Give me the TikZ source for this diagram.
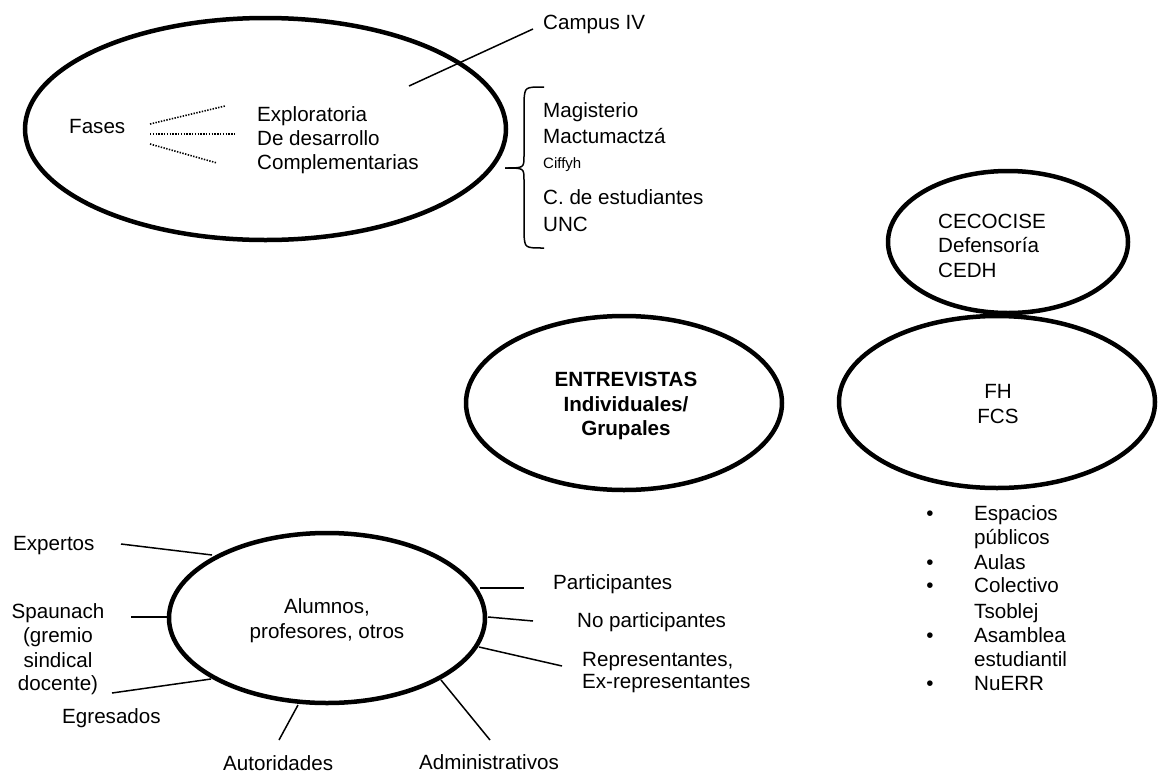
\documentclass[tikz,border=0pt]{standalone}
\usepackage{fontspec}
\setmainfont{Liberation Sans}
\usetikzlibrary{shapes.geometric}
\tikzset{
  txt/.style={font=\fontsize{20.6}{24}\selectfont, inner sep=0pt, anchor=base west},
  ctxt/.style={txt, anchor=base},
  btxt/.style={txt, anchor=base, font=\fontsize{20.6}{24}\selectfont\bfseries},
  oval/.style={ellipse, draw, line width=4.5pt, inner sep=0pt},
  conn/.style={line width=1.5pt},
  dots/.style={line width=1.6pt, dash pattern=on 1.4pt off 1.4pt},
}
\begin{document}
\begin{tikzpicture}[x=1pt,y=-1pt]
\useasboundingbox (0,0) rectangle (1160,774);

% ---- ellipses
\node[oval, minimum width=481pt, minimum height=222pt] (fases) at (265.5,129) {};
\node[oval, minimum width=240pt, minimum height=142pt] (ceco) at (1008,242) {};
\node[oval, minimum width=316pt, minimum height=172pt] (fh) at (997,402) {};
\node[oval, minimum width=316pt, minimum height=174pt] (entre) at (624,403) {};
\node[oval, minimum width=316pt, minimum height=170pt] (alum) at (327,618) {};

% ---- Fases ellipse
\node[txt] (fa) at (69,133) {Fases};
\node[txt] (ph1) at (257,121) {Exploratoria};
\node[txt] (ph2) at (257,145) {De desarrollo};
\node[txt] (ph3) at (257,169) {Complementarias};
\coordinate (d1a) at (150,124); \coordinate (d1b) at (225,106);
\coordinate (d2a) at (150,134); \coordinate (d2b) at (235,134);
\coordinate (d3a) at (150,144); \coordinate (d3b) at (217,163);
\draw[dots] (d1a) -- (d1b);
\draw[dots] (d2a) -- (d2b);
\draw[dots] (d3a) -- (d3b);

% ---- Campus IV
\node[txt] (campus) at (543,29) {Campus IV};
\coordinate (ca) at (409,86);
\coordinate (cb) at (533,29);
\draw[conn] (ca) -- (cb);

% ---- brace and list
\coordinate (brtop) at (544,87);
\coordinate (brtip) at (505,168);
\coordinate (brbot) at (544,248);
\draw[conn] (brtop) .. controls (525,87) .. (524,100) -- (524,156)
  .. controls (524,168) .. (brtip);
\draw[conn] (brtip) .. controls (524,168) .. (524,180) -- (524,235)
  .. controls (525,248) .. (brbot);
\node[txt] (m1) at (543,117) {Magisterio};
\node[txt] (m2) at (543,143) {Mactumactzá};
\node[txt, font=\fontsize{15}{18}\selectfont] (m3) at (543,168) {Ciffyh};
\node[txt] (m4) at (543,204) {C. de estudiantes};
\node[txt] (m5) at (543,231) {UNC};

% ---- CECOCISE
\node[txt] (c1) at (938,228) {CECOCISE};
\node[txt] (c2) at (938,252) {Defensoría};
\node[txt] (c3) at (938,277) {CEDH};

% ---- FH
\node[ctxt] (f1) at (998,398) {FH};
\node[ctxt] (f2) at (998,423) {FCS};

% ---- ENTREVISTAS
\node[btxt] (e1) at (626,386) {ENTREVISTAS};
\node[btxt] (e2) at (626,411) {Individuales/};
\node[btxt] (e3) at (626,435) {Grupales};

% ---- bullets
\foreach \n/\y/\t/\b in {b1/520/Espacios/1, b2/544/públicos/0, b3/569/Aulas/1,
  b4/592/Colectivo/1, b5/618/Tsoblej/0, b6/642/Asamblea/1,
  b7/666/estudiantil/0, b8/690/NuERR/1}{
  \node[txt] (\n) at (974,\y) {\t};
  \ifnum\b=1 \node[ctxt] (\n-dot) at (930,\y) {•};\fi
}

% ---- Alumnos ellipse
\node[ctxt] (a1) at (327,613) {Alumnos,};
\node[ctxt] (a2) at (327,638) {profesores, otros};

\node[txt] (exp) at (13,550) {Expertos};
\node[ctxt] (sp1) at (58,618) {Spaunach};
\node[ctxt] (sp2) at (58,642) {(gremio};
\node[ctxt] (sp3) at (58,667) {sindical};
\node[ctxt] (sp4) at (58,690) {docente)};
\node[txt] (egr) at (62,723) {Egresados};
\node[txt] (aut) at (223,770) {Autoridades};
\node[txt] (par) at (553,589) {Participantes};
\node[txt] (nop) at (577,627) {No participantes};
\node[txt] (rep1) at (582,666) {Representantes,};
\node[txt] (rep2) at (582,688) {Ex-representantes};
\node[txt] (adm) at (419,769) {Administrativos};

\coordinate (l1a) at (121,544); \coordinate (l1b) at (212,555);
\coordinate (l2a) at (131,617); \coordinate (l2b) at (168,617);
\coordinate (l3a) at (112,693); \coordinate (l3b) at (211,679);
\coordinate (l4a) at (279,740); \coordinate (l4b) at (298,705);
\coordinate (l5a) at (480,588); \coordinate (l5b) at (524,588);
\coordinate (l6a) at (488,617); \coordinate (l6b) at (533,621);
\coordinate (l7a) at (479,647); \coordinate (l7b) at (562,666);
\coordinate (l8a) at (441,680); \coordinate (l8b) at (490,740);
\foreach \i in {1,...,8}{\draw[conn] (l\i a) -- (l\i b);}
\end{tikzpicture}
\end{document}
